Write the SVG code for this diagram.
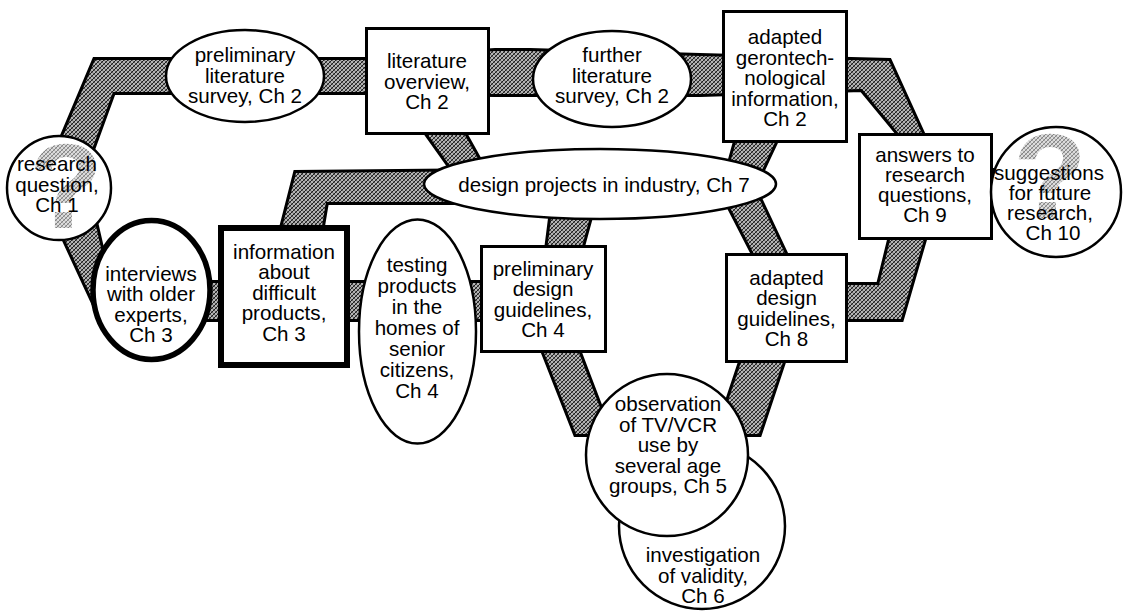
<svg xmlns="http://www.w3.org/2000/svg" xmlns:xlink="http://www.w3.org/1999/xlink" width="1130" height="612" viewBox="0 0 1130 612">
  <style>
    .band-edge { fill: #000; stroke: #000; stroke-width: 6; stroke-linejoin: miter; }
    .band-fill { fill: url(#hatch); stroke: none; }
    .node { fill: #fff; stroke: #000; stroke-width: 3; }
    .oval { fill: #fff; stroke: #000; stroke-width: 2.5; }
    .heavy { stroke-width: 5.5; }
    .heavier { stroke-width: 6; }
    .label { font-family: "Liberation Sans", Arial, Helvetica, sans-serif; font-size: 20.6px; text-anchor: middle; fill: #000; }
    .qmark { font-family: "Liberation Sans", Arial, Helvetica, sans-serif; font-weight: bold; font-size: 120px; text-anchor: middle; fill: url(#hatch-light); }
  </style>
  <defs>
    <!-- dark crosshatch used for the bands -->
    <pattern id="hatch" patternUnits="userSpaceOnUse" width="4" height="4">
      <rect width="4" height="4" fill="#b4b4b4"/>
      <path d="M0,4 L4,0 M-1,1 L1,-1 M3,5 L5,3" stroke="#1e1e1e" stroke-width="1"/>
      <path d="M0,0 L4,4 M-1,3 L1,5 M3,-1 L5,1" stroke="#4a4a4a" stroke-width="0.8"/>
    </pattern>
    <!-- lighter crosshatch for the question marks -->
    <pattern id="hatch-light" patternUnits="userSpaceOnUse" width="4" height="4">
      <rect width="4" height="4" fill="#dcdcdc"/>
      <path d="M0,4 L4,0 M-1,1 L1,-1 M3,5 L5,3" stroke="#7a7a7a" stroke-width="0.9"/>
      <path d="M0,0 L4,4" stroke="#9a9a9a" stroke-width="0.7"/>
    </pattern>
    <!-- band network, drawn twice: black edge pass, then hatched fill pass -->
    <g id="band-shapes">
      <polygon points="55,155 95,60 365,60 495,51 530,51 700,56 889,61 925,140 904,140 862,89 700,94 495,94 365,92 113,92 90,155"/>
      <polygon points="58,225 95,222 113,300 95,305"/>
      <polygon points="203,283 500,283 500,319 203,319"/>
      <polygon points="281,232 296,173 500,171 500,202 326,202 321,232"/>
      <polygon points="423,128 461,128 490,180 460,180"/>
      <polygon points="554,195 596,195 581,250 547,250"/>
      <polygon points="541,345 576,345 610,434 576,434"/>
      <polygon points="745,350 787,350 759,434 717,434"/>
      <polygon points="737,138 777,138 755,185 724,185"/>
      <polygon points="721,190 755,190 788,260 757,260"/>
      <polygon points="891,236 925,236 901,319 840,319 840,285 879,285"/>
      <polygon points="985,171 1010,171 1010,205 985,205"/>
    </g>
  </defs>

  <rect width="1130" height="612" fill="#fff"/>

  <g id="connectors">
    <use xlink:href="#band-shapes" class="band-edge"/>
    <use xlink:href="#band-shapes" class="band-fill"/>
  </g>

  <g id="research-question">
    <circle class="oval" cx="59" cy="188" r="52"/>
    <text class="qmark" x="66" y="228">?</text>
    <text class="label"><tspan x="57" y="171">research</tspan><tspan x="57" y="191.5">question,</tspan><tspan x="57" y="212">Ch 1</tspan></text>
  </g>

  <g id="preliminary-literature-survey">
    <ellipse class="oval" cx="245" cy="76" rx="79" ry="46"/>
    <text class="label"><tspan x="245" y="62">preliminary</tspan><tspan x="245" y="82.5">literature</tspan><tspan x="245" y="103">survey, Ch 2</tspan></text>
  </g>

  <g id="literature-overview">
    <rect class="node" x="366.5" y="28.5" width="122" height="105"/>
    <text class="label"><tspan x="427" y="68">literature</tspan><tspan x="427" y="88.5">overview,</tspan><tspan x="427" y="109">Ch 2</tspan></text>
  </g>

  <g id="further-literature-survey">
    <ellipse class="oval" cx="612" cy="79" rx="79" ry="48"/>
    <text class="label"><tspan x="612" y="62">further</tspan><tspan x="612" y="82.5">literature</tspan><tspan x="612" y="103">survey, Ch 2</tspan></text>
  </g>

  <g id="adapted-gerontechnological-information">
    <rect class="node" x="723.5" y="11.5" width="123" height="130"/>
    <text class="label"><tspan x="785" y="44">adapted</tspan><tspan x="785" y="64.5">gerontech-</tspan><tspan x="785" y="85">nological</tspan><tspan x="785" y="105.5">information,</tspan><tspan x="785" y="126">Ch 2</tspan></text>
  </g>

  <g id="design-projects-in-industry">
    <ellipse class="oval" cx="600" cy="184" rx="176" ry="35"/>
    <text class="label" x="604" y="192">design projects in industry, Ch 7</text>
  </g>

  <g id="answers-to-research-questions">
    <rect class="node" x="859.5" y="134.5" width="132" height="104"/>
    <text class="label"><tspan x="925" y="162">answers to</tspan><tspan x="925" y="182">research</tspan><tspan x="925" y="202">questions,</tspan><tspan x="925" y="222">Ch 9</tspan></text>
  </g>

  <g id="suggestions-for-future-research">
    <circle class="oval" cx="1056" cy="192" r="65"/>
    <text class="qmark" x="1050" y="218">?</text>
    <text class="label"><tspan x="1049" y="180">suggestions</tspan><tspan x="1050" y="200">for future</tspan><tspan x="1050" y="220">research,</tspan><tspan x="1053" y="240">Ch 10</tspan></text>
  </g>

  <g id="interviews-with-older-experts">
    <ellipse class="oval heavy" cx="151.5" cy="290" rx="58.5" ry="69.5"/>
    <text class="label"><tspan x="151" y="280.5">interviews</tspan><tspan x="151" y="301">with older</tspan><tspan x="151" y="321.5">experts,</tspan><tspan x="151" y="342">Ch 3</tspan></text>
  </g>

  <g id="information-about-difficult-products">
    <rect class="node heavier" x="221" y="228" width="126" height="137"/>
    <text class="label"><tspan x="284" y="258.5">information</tspan><tspan x="284" y="279">about</tspan><tspan x="284" y="299.5">difficult</tspan><tspan x="284" y="320">products,</tspan><tspan x="284" y="340.5">Ch 3</tspan></text>
  </g>

  <g id="testing-products-in-homes">
    <ellipse class="oval" cx="417.5" cy="331.5" rx="58.5" ry="112"/>
    <text class="label"><tspan x="417" y="272">testing</tspan><tspan x="417" y="293">products</tspan><tspan x="417" y="314">in the</tspan><tspan x="417" y="335">homes of</tspan><tspan x="417" y="356">senior</tspan><tspan x="417" y="377">citizens,</tspan><tspan x="417" y="398">Ch 4</tspan></text>
  </g>

  <g id="preliminary-design-guidelines">
    <rect class="node" x="481.5" y="246.5" width="124" height="105"/>
    <text class="label"><tspan x="543" y="275.5">preliminary</tspan><tspan x="543" y="296">design</tspan><tspan x="543" y="316.5">guidelines,</tspan><tspan x="543" y="337">Ch 4</tspan></text>
  </g>

  <g id="adapted-design-guidelines">
    <rect class="node" x="726.5" y="254.5" width="120" height="107"/>
    <text class="label"><tspan x="786.5" y="284.5">adapted</tspan><tspan x="786.5" y="305">design</tspan><tspan x="786.5" y="325.5">guidelines,</tspan><tspan x="786.5" y="346">Ch 8</tspan></text>
  </g>

  <g id="investigation-of-validity">
    <circle class="oval" cx="702" cy="526" r="83"/>
    <text class="label"><tspan x="703" y="562">investigation</tspan><tspan x="703" y="582.5">of validity,</tspan><tspan x="703" y="603">Ch 6</tspan></text>
  </g>

  <g id="observation-of-tv-vcr-use">
    <circle class="oval" cx="667" cy="455" r="81"/>
    <text class="label"><tspan x="668" y="411">observation</tspan><tspan x="668" y="431.5">of TV/VCR</tspan><tspan x="668" y="452">use by</tspan><tspan x="668" y="472.5">several age</tspan><tspan x="668" y="493">groups, Ch 5</tspan></text>
  </g>
</svg>
